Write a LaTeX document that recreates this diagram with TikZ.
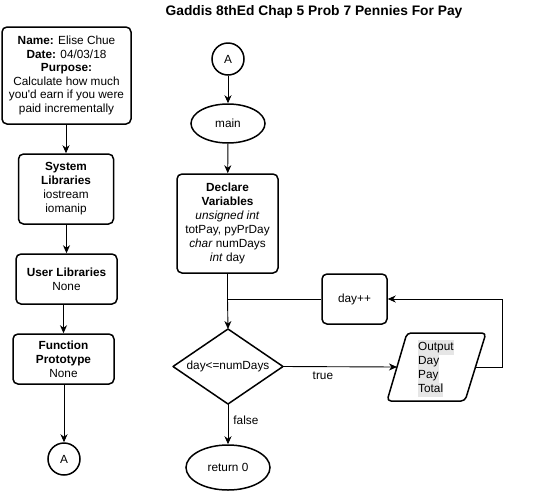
\documentclass[tikz,border=0pt]{standalone}
\usepackage{fontspec}
\setmainfont{Liberation Sans}[Ligatures=TeXOff]
\usetikzlibrary{shapes.geometric,arrows.meta}
\definecolor{hlgray}{HTML}{E6E6E6}
\newcommand{\hlw}[1]{{\setlength{\fboxsep}{0pt}\colorbox{hlgray}{\strut #1}}}
\begin{document}
\begin{tikzpicture}[x=1pt,y=-1pt,
  every node/.style={font=\fontsize{11.8}{14}\selectfont, text=black},
  box/.style={draw, line width=1.5pt, rounded corners=5pt, align=center, inner sep=0pt},
  term/.style={draw, ellipse, line width=1.5pt, inner sep=0pt},
  conn/.style={draw, circle, line width=1.5pt, inner sep=0pt, minimum size=32pt},
  arr/.style={line width=0.9pt, -{Stealth[length=8pt,width=7pt,inset=2.5pt]}},
  ln/.style={line width=0.9pt},
  lbl/.style={inner sep=0pt}]
\useasboundingbox (0,0) rectangle (557,491);
% title
\node[lbl, font=\bfseries\fontsize{13.8}{16}\selectfont] (title) at (314,12) {Gaddis 8thEd Chap 5 Prob 7 Pennies For Pay};
% left column
\node[box, minimum width=129pt, minimum height=97pt, font=\fontsize{11.8}{13.5}\selectfont] (hdr) at (66.5,75.5)
  {\textbf{Name:} Elise Chue\\\textbf{Date:} 04/03/18\\\textbf{Purpose:}\\Calculate how much\\you'd earn if you were\\paid incrementally};
\node[box, minimum width=95pt, minimum height=70pt] (syslib) at (66,189)
  {\textbf{System}\\\textbf{Libraries}\\iostream\\iomanip};
\node[box, minimum width=101pt, minimum height=50pt] (usrlib) at (66.5,279)
  {\textbf{User Libraries}\\None};
\node[box, minimum width=101pt, minimum height=50pt] (proto) at (63.5,359)
  {\textbf{Function}\\\textbf{Prototype}\\None};
\node[conn] (aL) at (64,459) {A};
\draw[arr] (hdr.south -| syslib.north) -- (syslib.north);
\draw[arr] (syslib.south -| usrlib.north) -- (usrlib.north);
\draw[arr] (usrlib.south -| proto.north) -- (proto.north);
\draw[arr] (proto.south -| aL.north) -- (aL.north);
% right column
\node[conn] (aR) at (228,59) {A};
\node[term, minimum width=74pt, minimum height=39pt] (main) at (228,123.5) {main};
\node[box, minimum width=101pt, minimum height=99pt] (decl) at (227.5,223.5)
  {\textbf{Declare}\\\textbf{Variables}\\\textit{unsigned int}\\totPay, pyPrDay\\\textit{char} numDays\\\textit{int} day};
\node[box, minimum width=65pt, minimum height=50pt] (inc) at (354.5,299) {day++};
% decision diamond
\coordinate (dN) at (228,329);
\coordinate (dS) at (228,404);
\coordinate (dW) at (173,366.5);
\coordinate (dE) at (283,366.5);
\draw[line width=1.5pt, line join=round] (dN) -- (dE) -- (dS) -- (dW) -- cycle;
\node[lbl] (cond) at (228,366.5) {day<=numDays};
% parallelogram (output)
\coordinate (pTL) at (407,333);
\coordinate (pTR) at (486,333);
\coordinate (pBR) at (465,401);
\coordinate (pBL) at (387,401);
\coordinate (pW) at (397,367);
\coordinate (pE) at (475.5,367);
\draw[line width=1.5pt, rounded corners=4pt] (pTL) -- (pTR) -- (pBR) -- (pBL) -- cycle;
\node[lbl, align=left, font=\fontsize{11.8}{14.3}\selectfont, anchor=west] (outtxt) at (418,368.5)
  {\hlw{Output}\\[-0.2pt]\hlw{Day}\\[-0.2pt]\hlw{Pay}\\[-0.2pt]\hlw{Total}};
\node[term, minimum width=84pt, minimum height=45pt] (ret) at (228,467.5) {return 0};
\coordinate (merge) at (decl.south |- inc.west);
\coordinate (rc) at (502,367);
\draw[arr] (aR) -- (main);
\draw[arr] (main) -- (decl);
\draw[ln] (decl.south) -- (merge);
\draw[ln] (inc.west) -- (merge);
\draw[arr] (merge) -- (dN);
\draw[arr] (dE) -- (pW) node[lbl, pos=0.35, below=5pt] (ttrue) {true};
\draw[arr] (pE) -- (rc) |- (inc.east);
\draw[arr] (dS) -- (ret.north) node[lbl, pos=0.4, right=5pt] (tfalse) {false};
\end{tikzpicture}
\end{document}
